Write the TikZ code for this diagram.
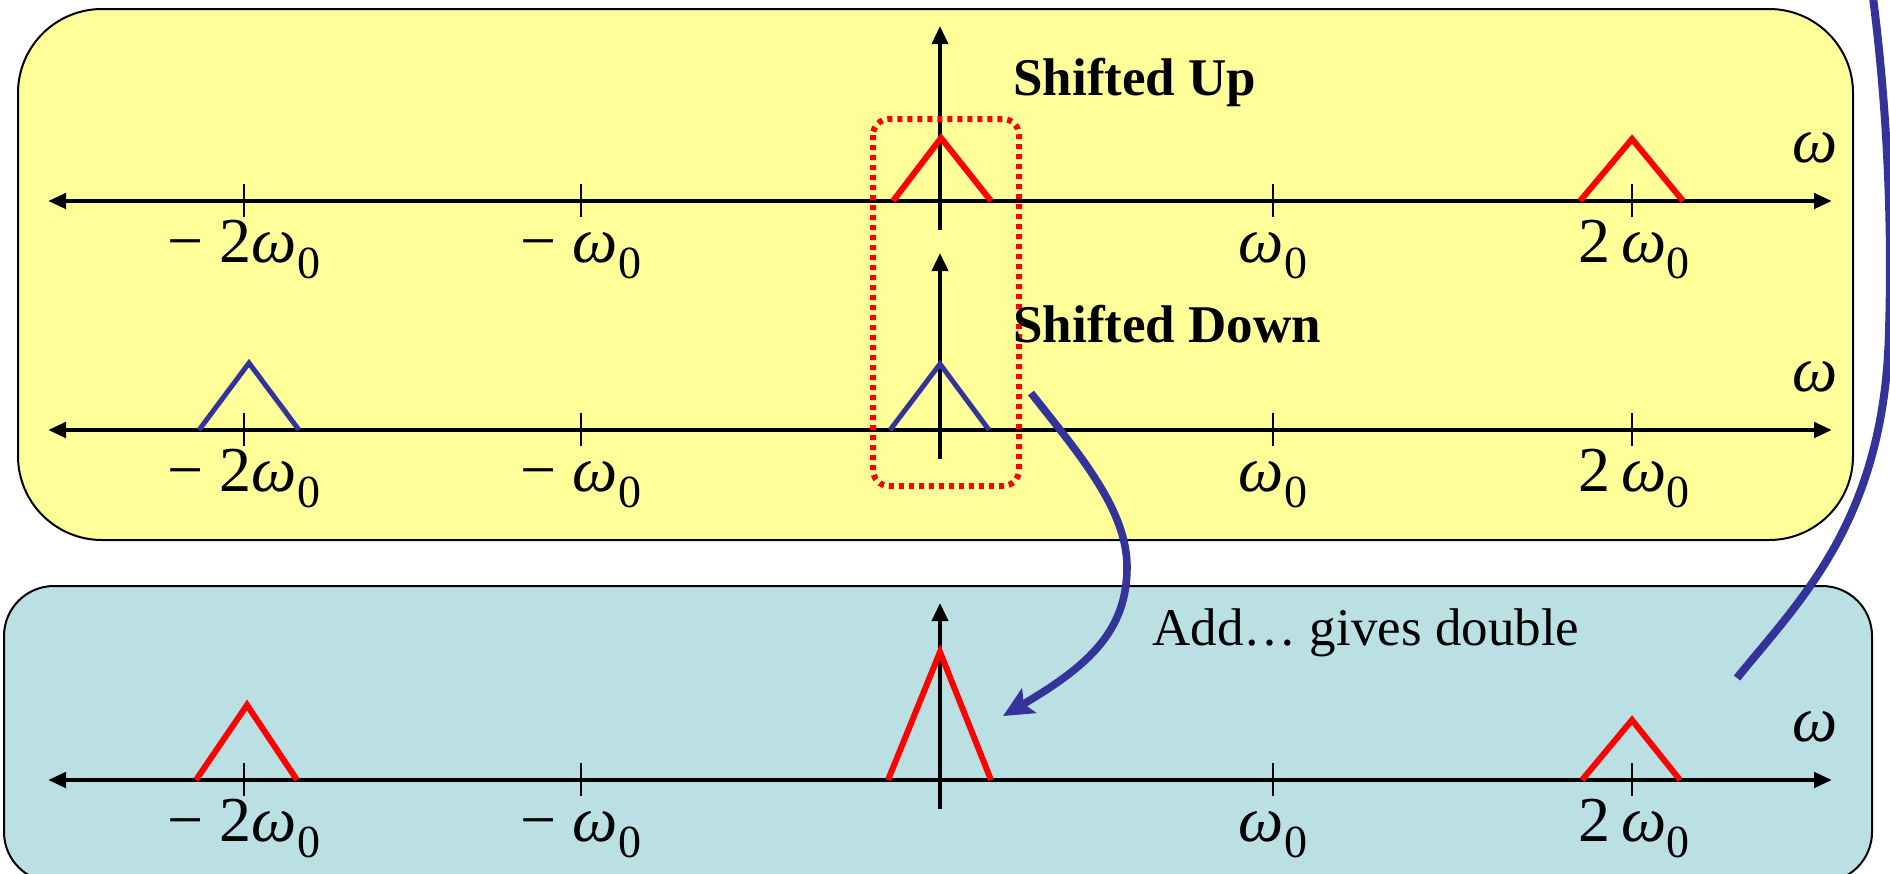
\documentclass[tikz,border=0pt]{standalone}
\usepackage{fontspec}
\setmainfont{Liberation Serif}
\usetikzlibrary{arrows.meta}
\definecolor{yel}{HTML}{FFFF99}
\definecolor{cya}{HTML}{BBE0E3}
\definecolor{dblue}{HTML}{333399}
\definecolor{rd}{HTML}{FF0000}
\newcommand{\omZero}{\textit{ω}\raisebox{-8pt}{\fontsize{23}{24}\selectfont 0}}
\begin{document}
\begin{tikzpicture}[x=0.5pt,y=-0.5pt,
  panel/.style={draw=black,line width=1pt},
  haxis/.style={line width=2.4pt,{Triangle[length=9pt,width=7.5pt]}-{Triangle[length=9pt,width=7.5pt]}},
  vaxis/.style={line width=1.8pt,-{Triangle[length=9pt,width=8pt]}},
  tickmark/.style={line width=1.1pt},
  redtri/.style={draw=rd,line width=3pt},
  bluetri/.style={draw=dblue,line width=2.5pt},
  labfont/.style={font=\fontsize{32}{36}\selectfont,inner sep=0pt,anchor=base},
  wfont/.style={font=\fontsize{32}{36}\selectfont\itshape,inner sep=0pt,anchor=base},
  txt/.style={font=\fontsize{26.5}{30}\selectfont,inner sep=0pt,anchor=base west},
  dotbox/.style={draw=rd,line width=3pt,dash pattern=on 2.5pt off 2.5pt,rounded corners=8pt},
  bluecurve/.style={draw=dblue,line width=3.8pt},
]
\useasboundingbox (0,0) rectangle (1890,873);
\clip (0,0) rectangle (1890,873);
% panels
\draw[panel,fill=yel,rounded corners=42pt] (18,9) rectangle (1853,540);
\draw[panel,fill=cya,rounded corners=25pt] (4,586) rectangle (1872,882);
% axes
\foreach \r/\y/\top in {1/201/26,2/430/253,3/780/603}{
  \coordinate (L\r) at (48,\y);
  \coordinate (R\r) at (1832,\y);
  \draw[haxis] (L\r) -- (R\r);
  \foreach \n/\x in {a/244,b/581,c/1273,d/1632}{
    \coordinate (t\r\n) at (\x,\y);
    \draw[tickmark] ([yshift=8.5pt]t\r\n) -- ([yshift=-8pt]t\r\n);
  }
  \coordinate (vb\r) at (940,{\y+29});
  \coordinate (vt\r) at (940,\top);
  \draw[vaxis] (vb\r) -- (vt\r);
  \node[labfont] (la\r) at (244,{\y+61}) {− 2\omZero};
  \node[labfont] (lb\r) at (581,{\y+61}) {− \omZero};
  \node[labfont] (lc\r) at (1273,{\y+61}) {\omZero};
  \node[labfont] (ld\r) at (1634,{\y+61}) {2\,\omZero};
  \node[wfont] (w\r) at (1815,{\y-39}) {ω};
}
% row 1 spectra (shifted up)
\draw[redtri] (893,201) -- (941,138) -- (991,201);
\draw[redtri] (1580,201) -- (1632,139) -- (1683,201);
% row 2 spectra (shifted down)
\draw[bluetri] (890,430) -- (940,364) -- (989,430);
\draw[bluetri] (199,430) -- (249,363) -- (299,430);
% row 3 spectra (sum)
\draw[redtri] (196,780) -- (247,705) -- (297,780);
\draw[redtri] (888,780) -- (940,652) -- (991,780);
\draw[redtri] (1582,780) -- (1632,720) -- (1680,780);
% highlight
\draw[dotbox] (873,119) rectangle (1019,486);
% texts
\node[txt,font=\fontsize{26.5}{30}\selectfont\bfseries] (up) at (1013,95) {Shifted Up};
\node[txt,font=\fontsize{26.5}{30}\selectfont\bfseries] (down) at (1013,342) {Shifted Down};
\node[txt] (add) at (1152,645) {Add… gives double};
% curved arrows
\coordinate (c1s) at (1031,393);
\coordinate (c1m) at (1127,567);
\coordinate (c1e) at (1003,716);
\draw[bluecurve,-{Stealth[length=15pt,width=14pt,inset=3pt]}] (c1s) .. controls (1080,455) and (1127,510) .. (c1m) .. controls (1127,630) and (1090,665) .. (c1e);
\coordinate (c2s) at (1737,678);
\coordinate (c2m) at (1889,330);
\coordinate (c2e) at (1872,-10);
\draw[bluecurve,line width=4pt] (c2s) .. controls (1800,600) and (1885,520) .. (c2m) .. controls (1893,200) and (1884,80) .. (c2e);
\end{tikzpicture}
\end{document}
